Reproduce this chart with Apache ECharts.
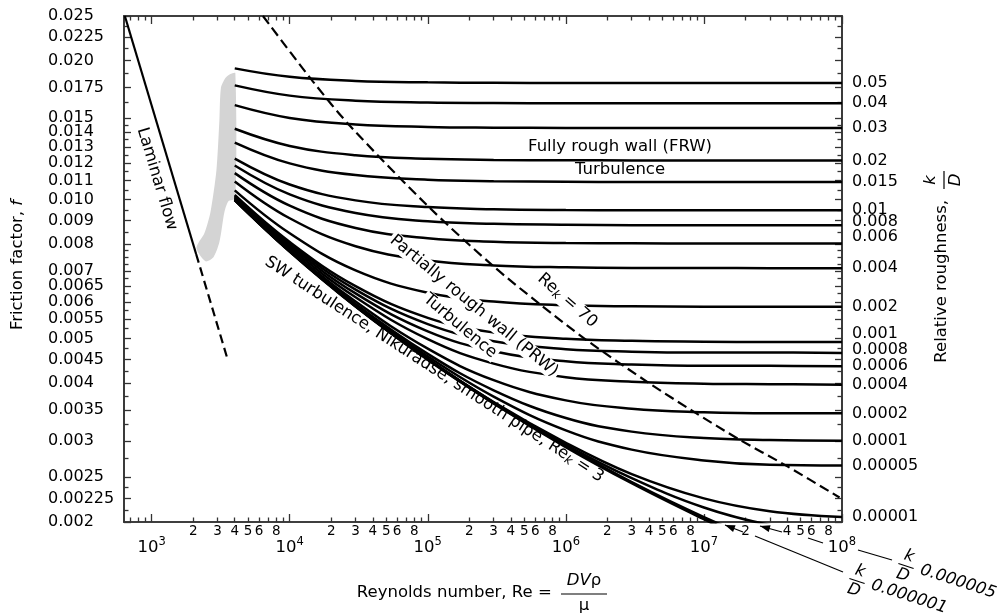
<!DOCTYPE html>
<html>
<head>
<meta charset="utf-8">
<script src="https://cdn.jsdelivr.net/npm/echarts@6.0.0/dist/echarts.min.js"></script>
<style>
html, body { margin: 0; padding: 0; background: #fff; }
#chart { width: 1003px; height: 615px; }
</style>
</head>
<body>
<div id="chart"></div>
<script>
var reSamples = [4e3, 1e4, 3e4, 1e5, 3e5, 1e6, 3e6, 1e7, 3e7, 1e8];

// friction factor f for each relative roughness k/D
var fr_05     = [0.01925, 0.01845, 0.01808, 0.01795, 0.01791, 0.01789, 0.01789, 0.01789, 0.01789, 0.01789];
var fr_04     = [0.01768, 0.01680, 0.01638, 0.01623, 0.01619, 0.01617, 0.01617, 0.01617, 0.01617, 0.01617];
var fr_03     = [0.01602, 0.01503, 0.01455, 0.01437, 0.01432, 0.01430, 0.01429, 0.01429, 0.01429, 0.01429];
var fr_02     = [0.01424, 0.01307, 0.01248, 0.01226, 0.01219, 0.01217, 0.01216, 0.01216, 0.01216, 0.01216];
var fr_015    = [0.01329, 0.01198, 0.01130, 0.01104, 0.01096, 0.01093, 0.01092, 0.01092, 0.01092, 0.01092];
var fr_01     = [0.01227, 0.01078, 0.00996, 0.00963, 0.00953, 0.00949, 0.00948, 0.00948, 0.00948, 0.00948];
var fr_008    = [0.01185, 0.01026, 0.00935, 0.00897, 0.00886, 0.00882, 0.00880, 0.00880, 0.00880, 0.00880];
var fr_006    = [0.01141, 0.00970, 0.00868, 0.00824, 0.00810, 0.00805, 0.00804, 0.00803, 0.00803, 0.00803];
var fr_004    = [0.01095, 0.00911, 0.00792, 0.00738, 0.00720, 0.00713, 0.00711, 0.00711, 0.00710, 0.00710];
var fr_002    = [0.01047, 0.00845, 0.00702, 0.00628, 0.00601, 0.00590, 0.00587, 0.00586, 0.00586, 0.00586];
var fr_001    = [0.01023, 0.00809, 0.00649, 0.00554, 0.00515, 0.00499, 0.00494, 0.00492, 0.00491, 0.00491];
var fr_0008   = [0.01018, 0.00802, 0.00638, 0.00537, 0.00493, 0.00474, 0.00468, 0.00466, 0.00466, 0.00465];
var fr_0006   = [0.01013, 0.00795, 0.00626, 0.00518, 0.00469, 0.00446, 0.00439, 0.00436, 0.00436, 0.00435];
var fr_0004   = [0.01008, 0.00787, 0.00614, 0.00498, 0.00441, 0.00412, 0.00403, 0.00399, 0.00398, 0.00397];
var fr_0002   = [0.01003, 0.00779, 0.00601, 0.00475, 0.00406, 0.00367, 0.00352, 0.00346, 0.00344, 0.00344];
var fr_0001   = [0.01001, 0.00776, 0.00594, 0.00463, 0.00386, 0.00336, 0.00314, 0.00304, 0.00301, 0.00300];
var fr_00005  = [0.00999, 0.00774, 0.00590, 0.00457, 0.00374, 0.00316, 0.00287, 0.00272, 0.00266, 0.00265];
var fr_00001  = [0.00999, 0.00773, 0.00588, 0.00451, 0.00364, 0.00297, 0.00254, 0.00225, 0.00211, 0.00205];
var fr_000005 = [0.00999, 0.00773, 0.00588, 0.00451, 0.00363, 0.00294, 0.00249, 0.00215, 0.00197, 0.00187];
var fr_000001 = [0.00998, 0.00772, 0.00587, 0.00450, 0.00362, 0.00292, 0.00244, 0.00205, 0.00179, 0.00160];
var fSmooth   = [0.00998, 0.00772, 0.00587, 0.00450, 0.00362, 0.00291, 0.00243, 0.00203, 0.00174, 0.00150];

var kdLabels = ['0.05', '0.04', '0.03', '0.02', '0.015', '0.01', '0.008', '0.006', '0.004', '0.002',
    '0.001', '0.0008', '0.0006', '0.0004', '0.0002', '0.0001', '0.00005', '0.00001', '0.000005', '0.000001'];
var kdRows = [fr_05, fr_04, fr_03, fr_02, fr_015, fr_01, fr_008, fr_006, fr_004, fr_002,
    fr_001, fr_0008, fr_0006, fr_0004, fr_0002, fr_0001, fr_00005, fr_00001, fr_000005, fr_000001];

// laminar flow line, solid then dashed
var lamRe = [640, 2100];
var lamF = [0.025, 0.00762];
var lamDashRe = [2100, 3500];
var lamDashF = [0.00762, 0.00457];

// Re_k = 70 dashed boundary
var rk70Re = [6.4e3, 1.48e4, 2.76e4, 1.02e5, 2.94e5, 6.45e5, 1.41e6, 3.91e6, 8.41e6, 1.8e7, 3.85e7, 9.6e7];
var rk70F = [0.025, 0.0180, 0.0144, 0.00963, 0.0072, 0.00594, 0.00496, 0.00402, 0.00347, 0.00302, 0.00266, 0.00226];

// grey transition zone outline
var grayRe = [3097, 3176, 3422, 3719, 4040, 4040, 3597, 3365, 3097, 2804, 2454, 2113, 2414, 2667, 2947];
var grayF = [0.01487, 0.01745, 0.01834, 0.01871, 0.0188, 0.01007, 0.00992, 0.00939, 0.00809, 0.0075, 0.00735, 0.00785, 0.00846, 0.00939, 0.01158];

// axis ticks
var yLabelVals = [0.002, 0.00225, 0.0025, 0.003, 0.0035, 0.004, 0.0045, 0.005, 0.0055, 0.006, 0.0065, 0.007,
    0.008, 0.009, 0.010, 0.011, 0.012, 0.013, 0.014, 0.015, 0.0175, 0.020, 0.0225, 0.025];
var yLabelText = ['0.002', '0.00225', '0.0025', '0.003', '0.0035', '0.004', '0.0045', '0.005', '0.0055', '0.006', '0.0065', '0.007',
    '0.008', '0.009', '0.010', '0.011', '0.012', '0.013', '0.014', '0.015', '0.0175', '0.020', '0.0225', '0.025'];
var yMinorVals = [0.002125, 0.002375, 0.00275, 0.00325, 0.00375, 0.00425, 0.00475, 0.00525, 0.00575, 0.00625, 0.00675,
    0.00725, 0.0075, 0.00775, 0.0085, 0.0095, 0.0105, 0.0115, 0.0125, 0.0135, 0.0145, 0.01625, 0.01875, 0.02125, 0.02375];
var xMajorExp = [3, 4, 5, 6, 7, 8];
var xMinorLabelRe = [2e3, 3e3, 4e3, 5e3, 6e3, 8e3, 2e4, 3e4, 4e4, 5e4, 6e4, 8e4, 2e5, 3e5, 4e5, 5e5, 6e5, 8e5,
    2e6, 3e6, 4e6, 5e6, 6e6, 8e6, 2e7, 4e7, 5e7, 6e7, 8e7];

var FONT = 'DejaVu Sans';
var lg = Math.log10;
var xMin = 2.8, xMax = 8;
var yMin = lg(0.002), yMax = lg(0.025);
var AX = '#333';

var xMinorTicks = [lg(700), lg(800), lg(900)];
for (var d = 3; d <= 7; d++) {
    for (var m = 2; m <= 9; m++) xMinorTicks.push(lg(m * Math.pow(10, d)));
}

function pairs(reArr, fArr) {
    return reArr.map(function (r, i) { return [lg(r), lg(fArr[i])]; });
}

function xAx(pos, ticks, len, label) {
    return {
        type: 'value', position: pos, min: xMin, max: xMax,
        axisLine: { show: true, onZero: false, lineStyle: { color: AX, width: 1.6 } },
        axisTick: { show: true, inside: true, length: len, customValues: ticks, lineStyle: { color: AX, width: 1.3 } },
        axisLabel: label || { show: false },
        splitLine: { show: false }
    };
}
function yAx(pos, ticks, len, label) {
    return {
        type: 'value', position: pos, min: yMin, max: yMax,
        axisLine: { show: true, onZero: false, lineStyle: { color: AX, width: 1.6 } },
        axisTick: { show: true, inside: true, length: len, customValues: ticks, lineStyle: { color: AX, width: 1.3 } },
        axisLabel: label || { show: false },
        splitLine: { show: false }
    };
}

var xAxes = [
    xAx('bottom', xMajorExp, 8, {
        customValues: xMajorExp, margin: 14,
        formatter: function (v) { return '{b|10}{s|' + Math.round(v) + '}'; },
        rich: {
            b: { fontSize: 16.5, fontFamily: FONT, color: '#000', lineHeight: 20, verticalAlign: 'bottom' },
            s: { fontSize: 11.5, fontFamily: FONT, color: '#000', lineHeight: 10, verticalAlign: 'top' }
        }
    }),
    xAx('bottom', xMinorTicks, 4.5, {
        customValues: xMinorLabelRe.map(lg), margin: 2, fontSize: 13.5, fontFamily: FONT, color: '#000',
        formatter: function (v) { return String(Math.round(Math.pow(10, v - Math.floor(v + 1e-9)))); }
    }),
    xAx('top', xMajorExp, 8),
    xAx('top', xMinorTicks, 4.5)
];
var yAxes = [
    yAx('left', yLabelVals.map(lg), 7, {
        customValues: yLabelVals.map(lg), align: 'left', margin: 76, fontSize: 16, fontFamily: FONT, color: '#000',
        formatter: function (v) {
            for (var i = 0; i < yLabelVals.length; i++) {
                if (Math.abs(lg(yLabelVals[i]) - v) < 1e-6) return yLabelText[i];
            }
            return '';
        }
    }),
    yAx('left', yMinorVals.map(lg), 4.5),
    yAx('right', yLabelVals.map(lg), 7),
    yAx('right', yMinorVals.map(lg), 4.5)
];

// label nudges where right-hand labels crowd
var labelShift = { '0.008': -3, '0.006': -7, '0.001': -8, '0.0008': -3 };

var series = [];
series.push({
    type: 'custom', z: 1, silent: true, data: [[3.5, -2]],
    renderItem: function (params, api) {
        var pts = grayRe.map(function (r, i) { return api.coord([lg(r), lg(grayF[i])]); });
        return { type: 'polygon', shape: { points: pts, smooth: 0.25 }, style: { fill: '#d4d4d4' } };
    }
});
kdRows.forEach(function (row, i) {
    var lab = kdLabels[i];
    var ends = row[row.length - 1] >= 0.002;
    series.push({
        type: 'line', data: pairs(reSamples, row), symbol: 'none', showSymbol: false,
        smooth: 0.4, clip: true, silent: true, z: 3,
        lineStyle: { color: '#000', width: 2.5 },
        endLabel: {
            show: ends, formatter: lab, color: '#000', fontSize: 16, fontFamily: FONT,
            distance: 10, offset: [0, labelShift[lab] || 0]
        }
    });
});
series.push({
    type: 'line', data: pairs(reSamples, fSmooth), symbol: 'none', showSymbol: false,
    smooth: 0.4, clip: true, silent: true, z: 3,
    lineStyle: { color: '#000', width: 3 }
});
series.push({
    type: 'line', data: pairs(lamRe, lamF), symbol: 'none', clip: true, silent: true, z: 3,
    lineStyle: { color: '#000', width: 2.2 }
});
series.push({
    type: 'line', data: pairs(lamDashRe, lamDashF), symbol: 'none', clip: true, silent: true, z: 3,
    lineStyle: { color: '#000', width: 2.2, type: [9, 5] }
});
series.push({
    type: 'line', data: pairs(rk70Re, rk70F), symbol: 'none', smooth: 0.3, clip: true, silent: true, z: 3,
    lineStyle: { color: '#000', width: 2.2, type: [10, 5] }
});

function txt(x, y, deg, text, opts) {
    var st = { text: text, fontSize: 16.5, fontFamily: FONT, fill: '#000', align: 'center', verticalAlign: 'middle' };
    for (var k in (opts || {})) st[k] = opts[k];
    return { type: 'text', x: x, y: y, rotation: deg * Math.PI / 180, z: 50, style: st };
}
function subRich(size) {
    return {
        n: { fontSize: size, fontFamily: FONT, fill: '#000', lineHeight: 18, verticalAlign: 'top' },
        s: { fontSize: 12, fontFamily: FONT, fill: '#000', fontStyle: 'italic', lineHeight: 12, padding: [8, 0, 0, 0], verticalAlign: 'bottom' }
    };
}
function seg(x1, y1, x2, y2) {
    return { type: 'line', z: 50, shape: { x1: x1, y1: y1, x2: x2, y2: y2 }, style: { stroke: '#000', lineWidth: 1.2 } };
}
function arrowHead(tx, ty, fx, fy) {
    var dx = fx - tx, dy = fy - ty, L = Math.sqrt(dx * dx + dy * dy);
    var ux = dx / L, uy = dy / L;
    var bx = tx + ux * 10, by = ty + uy * 10;
    return {
        type: 'polygon', z: 50,
        shape: { points: [[tx, ty], [bx - uy * 3.5, by + ux * 3.5], [bx + uy * 3.5, by - ux * 3.5]] },
        style: { fill: '#000' }
    };
}
function kdNote(x, y, deg, num) {
    var it = { fontSize: 16.5, fontFamily: FONT, fill: '#000', fontStyle: 'italic', align: 'center', verticalAlign: 'middle' };
    return {
        type: 'group', x: x, y: y, rotation: deg * Math.PI / 180, z: 50,
        children: [
            { type: 'text', x: 0, y: -10, style: Object.assign({ text: 'k' }, it) },
            { type: 'line', shape: { x1: -8, y1: 0, x2: 8, y2: 0 }, style: { stroke: '#000', lineWidth: 1.2 } },
            { type: 'text', x: 0, y: 10, style: Object.assign({ text: 'D' }, it) },
            { type: 'text', x: 15, y: -1, style: Object.assign({ text: num }, it, { align: 'left' }) }
        ]
    };
}

var graphics = [
    txt(157, 179, -73.3, 'Laminar flow'),
    txt(620, 147, 0, 'Fully rough wall (FRW)'),
    txt(620, 170, 0, 'Turbulence'),
    txt(474, 306, -39.5, 'Partially rough wall (PRW)', { backgroundColor: '#fff', padding: [0, 2] }),
    txt(460, 326, -40, 'Turbulence', { backgroundColor: '#fff', padding: [0, 2] }),
    txt(567, 301, -41, '{n|Re}{s|k}{n| = 70}', { rich: subRich(16.5), backgroundColor: '#fff', padding: [0, 2] }),
    txt(434, 370, -33, '{n|SW turbulence, Nikuradse, smooth pipe, Re}{s|k}{n| = 3}', { rich: subRich(16.5) }),
    // axis titles
    txt(18, 265, 90, '{n|Friction factor, }{i|f}', {
        rich: {
            n: { fontSize: 16.5, fontFamily: FONT, fill: '#000' },
            i: { fontSize: 16.5, fontFamily: FONT, fill: '#000', fontStyle: 'italic' }
        }
    }),
    {
        type: 'group', x: 943, y: 285, rotation: Math.PI / 2, z: 50,
        children: [
            { type: 'text', x: 85, y: -1, style: { text: 'Relative roughness,', fontSize: 16.5, fontFamily: FONT, fill: '#000', align: 'right', verticalAlign: 'middle' } },
            { type: 'text', x: 105, y: -12, style: { text: 'k', fontSize: 16.5, fontFamily: FONT, fill: '#000', fontStyle: 'italic', align: 'center', verticalAlign: 'middle' } },
            { type: 'line', shape: { x1: 96, y1: 1, x2: 114, y2: 1 }, style: { stroke: '#000', lineWidth: 1.2 } },
            { type: 'text', x: 105, y: 13, style: { text: 'D', fontSize: 16.5, fontFamily: FONT, fill: '#000', fontStyle: 'italic', align: 'center', verticalAlign: 'middle' } }
        ]
    },
    txt(557, 593, 0, 'Reynolds number, Re = ', { align: 'right' }),
    txt(584, 581, 0, '{i|DV}{n|ρ}', {
        rich: {
            i: { fontSize: 16.5, fontFamily: FONT, fill: '#000', fontStyle: 'italic' },
            n: { fontSize: 16.5, fontFamily: FONT, fill: '#000' }
        }
    }),
    { type: 'line', z: 50, shape: { x1: 561, y1: 594, x2: 607, y2: 594 }, style: { stroke: '#000', lineWidth: 1.2 } },
    txt(584, 606, 0, 'μ'),
    // k/D notes with arrows at the bottom right
    arrowHead(725, 525, 743, 532),
    seg(725, 525, 743, 532),
    seg(755, 536, 843, 572),
    arrowHead(760, 526, 782, 532),
    seg(760, 526, 782, 532),
    seg(808, 538, 823, 543),
    seg(858, 550, 892, 560),
    kdNote(857, 581, -18, '0.000001'),
    kdNote(906, 566, -18, '0.000005')
];

var chart = echarts.init(document.getElementById('chart'));
chart.setOption({
    animation: false,
    backgroundColor: '#fff',
    textStyle: { fontFamily: FONT },
    grid: { left: 124, right: 161, top: 16, bottom: 93, containLabel: false, outerBoundsMode: 'none' },
    xAxis: xAxes,
    yAxis: yAxes,
    series: series,
    graphic: graphics
});
</script>
</body>
</html>
